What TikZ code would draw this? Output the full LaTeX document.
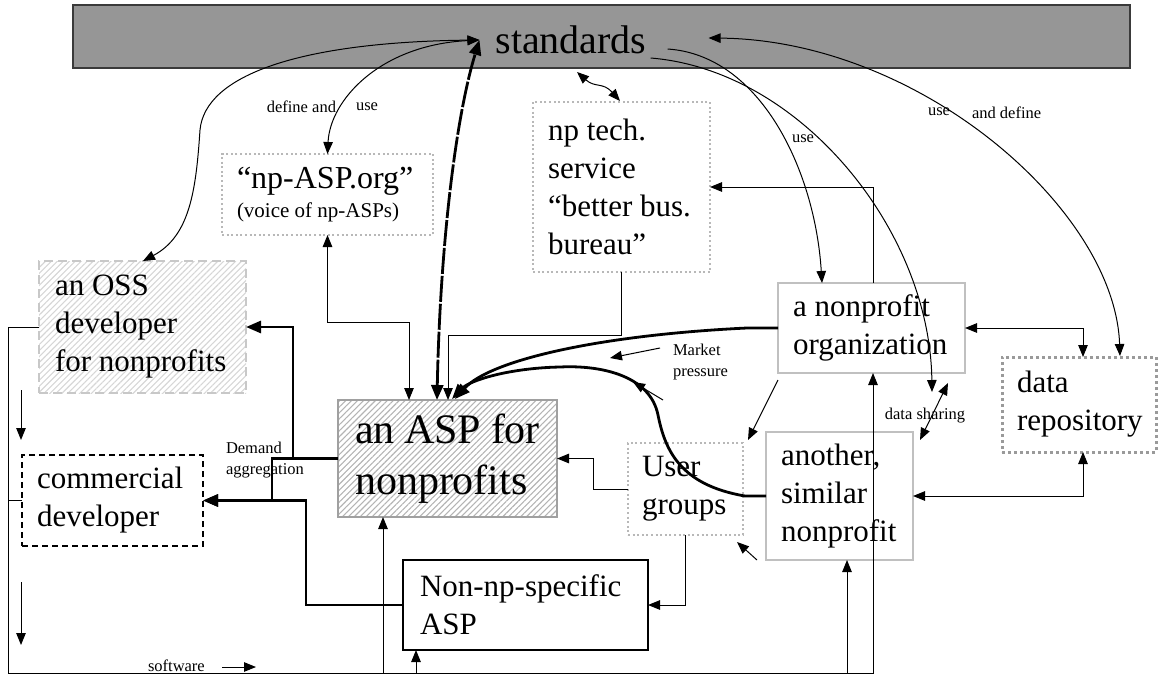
\documentclass[tikz,border=0pt]{standalone}
\usepackage{fontspec}
\setmainfont{Liberation Serif}
\usetikzlibrary{arrows.meta,calc,patterns.meta}

\definecolor{barfill}{HTML}{969696}
\definecolor{barline}{HTML}{3A3A3A}
\definecolor{boxgray}{HTML}{C0C0C0}
\definecolor{dotgray}{HTML}{B8B8B8}
\definecolor{repogray}{HTML}{9A9A9A}
\definecolor{ossline}{HTML}{C8C8C8}
\definecolor{hatchgray}{HTML}{B4B4B4}
\definecolor{hatchlight}{HTML}{D6D6D6}
\definecolor{aspline}{HTML}{A0A0A0}

\tikzset{
  every node/.style={inner sep=0pt, outer sep=0pt},
  bigtext/.style={font=\fontsize{31}{38}\selectfont},
  lab/.style={font=\fontsize{16.5}{21}\selectfont},
  panel/.style={anchor=north west, align=flush left, bigtext,
    execute at begin node={\hyphenpenalty=10000 \exhyphenpenalty=10000 }},
  greybox/.style={panel, draw=boxgray, line width=2.4pt},
  dotbox/.style={panel, draw=dotgray, line width=2pt, dash pattern=on 2pt off 2.6pt},
  hatch/.style={pattern={Lines[angle=45,distance=4.2pt,line width=1.1pt]}, pattern color=#1},
  conn/.style={line width=1pt},
  heavy/.style={line width=2.8pt, >={Triangle[length=15pt,width=12pt]}},
}

\begin{document}
\begin{tikzpicture}[x=1pt, y=-1pt, >={Triangle[length=12pt,width=9.5pt]}]
\useasboundingbox (0,0) rectangle (1159,675);

% standards bar
\node[panel, minimum width=1057pt, minimum height=63pt, fill=barfill, draw=barline, line width=1.4pt] (bar) at (73,5) {};
\node[font=\fontsize{40}{48}\selectfont] (std) at (571,40) {standards};
\coordinate (stdL) at ($(std.west)+(-16,0)$);
\coordinate (stdR) at ($(std.east)+(62,-2)$);
\coordinate (stdS) at ($(std.east)+(21,9)$);
\coordinate (stdF) at ($(std.east)+(4,18)$);
\coordinate (stdB) at ($(bar.south west)+(504,4)$);

% boxes
\node[panel, minimum width=207pt, minimum height=132pt, inner xsep=16pt, text width=175pt,
      draw=ossline, line width=2.2pt, dash pattern=on 9pt off 5pt, hatch=hatchlight] (oss) at (39,261)
      {an OSS\\developer\\for~nonprofits};
\node[dotbox, minimum width=211pt, minimum height=81pt, inner xsep=15pt, text width=181pt] (asporg) at (222,154)
      {{\fontsize{32}{38}\selectfont “np-ASP.org”}\\[-9pt]{\fontsize{21}{25}\selectfont (voice~of~np-ASPs)}};
\node[dotbox, minimum width=177pt, minimum height=170pt, inner xsep=15pt, text width=147pt] (tech) at (533,102)
      {np tech.\\service\\“better~bus.\\bureau”};
\node[panel, minimum width=219pt, minimum height=117pt, inner xsep=17pt, text width=185pt,
      font=\fontsize{42}{51}\selectfont, draw=aspline, line width=2.4pt, hatch=hatchgray] (asp) at (338,400)
      {an~ASP~for\\nonprofits};
\node[panel, minimum width=181pt, minimum height=91pt, inner xsep=15pt, text width=151pt,
      draw=black, line width=1.8pt, dash pattern=on 6pt off 4pt] (com) at (22,455)
      {commercial\\developer};
\node[panel, minimum width=245pt, minimum height=90pt, inner xsep=17pt, text width=211pt,
      draw=black, line width=2.4pt] (nonnp) at (403,560)
      {Non-np-specific\\ASP};
\node[dotbox, minimum width=115pt, minimum height=92pt, inner xsep=14pt, text width=87pt] (ug) at (628,443)
      {User\\groups};
\node[greybox, minimum width=147pt, minimum height=128pt, inner xsep=15pt, text width=117pt] (an) at (766,432)
      {another,\\similar\\nonprofit};
\node[greybox, minimum width=187pt, minimum height=90pt, inner xsep=15pt, text width=157pt] (np) at (778,283)
      {a~nonprofit\\organization};
\node[panel, minimum width=154pt, minimum height=95pt, inner xsep=15pt, text width=124pt,
      draw=repogray, line width=3pt, dash pattern=on 3pt off 3pt] (repo) at (1002,357)
      {data\\repository};

% links with the standards
\draw[conn,<->] ($(oss.north west)+(104,0)$) .. controls (190,236) and (196,190) .. (200,130)
      .. controls (205,75) and (300,42) .. (stdL);
\draw[conn,<->] (asporg.north) .. controls (330,100) and (380,45) .. (stdL);
\draw[heavy,<->, dash pattern=on 26pt off 2pt] ($(asp.north west)+(99,0)$) .. controls (440,250) and (455,120) .. (stdL);
\draw[conn,<->] (stdB) .. controls (595,88) and (603,82) .. ($(tech.north west)+(87,-1)$);
\draw[conn,<->] (stdR) .. controls (920,40) and (1115,210) .. ($(repo.north west)+(118,-1)$);
\draw[conn,->] (stdS) .. controls (760,55) and (815,170) .. ($(np.north west)+(44,0)$);
\coordinate (shareEnd) at (932,392);
\draw[conn,->] (stdF) .. controls (800,70) and (930,230) .. (shareEnd);

% data links
\draw[conn,<->] ($(np.south east)+(-17,10)$) -- ($(an.north east)+(7,8)$);
\coordinate (repoTop) at ($(repo.north west)+(81,0)$);
\coordinate (repoBot) at ($(repo.south west)+(81,0)$);
\draw[conn,<->] (np.east) -| (repoTop);
\draw[conn,<->] (an.east) -| (repoBot);
\coordinate (npTop) at ($(np.north west)+(95,0)$);
\draw[conn,->] (npTop) |- (tech.east);

% software loop along the bottom
\coordinate (cBL) at (8,673);
\coordinate (npBot) at ($(np.south west)+(95,0)$);
\draw[conn,->] (oss.west) -| (cBL) -| (npBot);
\draw[conn] (com.west) -- (com.west -| cBL);
\coordinate (aspBot) at ($(asp.south west)+(45,0)$);
\coordinate (nnBot) at ($(nonnp.south west)+(13,0)$);
\coordinate (anBot) at ($(an.south west)+(81,0)$);
\draw[conn,->] (aspBot |- cBL) -- (aspBot);
\draw[conn,->] (nnBot |- cBL) -- (nnBot);
\draw[conn,->] (anBot |- cBL) -- (anBot);

% direction hints
\coordinate (h1a) at (21,390); \coordinate (h1b) at (21,440);
\coordinate (h2a) at (21,582); \coordinate (h2b) at (21,645);
\coordinate (h3a) at (222,667); \coordinate (h3b) at (256,667);
\coordinate (h4a) at (660,348); \coordinate (h4b) at (610,358);
\coordinate (h5a) at (663,400); \coordinate (h5b) at (633,382);
\coordinate (h6a) at (757,560); \coordinate (h6b) at (737,542);
\draw[conn,->] (h1a) -- (h1b);
\draw[conn,->] (h2a) -- (h2b);
\draw[conn,->] (h3a) -- (h3b);
\draw[conn,->] (h4a) -- (h4b);
\draw[conn,->] (h5a) -- (h5b);
\draw[conn,->] (h6a) -- (h6b);

% links into the ASP
\draw[conn,<->] (asporg.south) -- ++(0,87) -| ($(asp.north west)+(71,0)$);
\draw[conn,->] (tech.south) -- ++(0,63) -| ($(asp.north west)+(110,0)$);
\draw[heavy,->] (np.west) -- ++(-31,0) .. controls (600,335) and (490,360) .. ($(asp.north west)+(117,-1)$);
\draw[heavy,->] (an.west) -- ++(-21,0) .. controls (680,485) and (665,450) .. (658,415)
      .. controls (650,375) and (600,365) .. (560,367)
      .. controls (510,368) and (470,380) .. ($(asp.north west)+(114,-1)$);
\draw[conn,->] (ug.west) -- ++(-35,0) |- (asp.east);
\draw[conn,->] (ug.south) |- (nonnp.east);
\draw[conn,->] ($(np.south west)+(0,7)$) -- ($(ug.north east)+(5,-3)$);

% demand aggregation
\coordinate (j1) at ($(asp.west)+(-45,0)$);
\coordinate (j2) at ($(asp.west)+(-66,0)$);
\draw[heavy,->] (asp.west) -- (j2) |- (com.east);
\draw[heavy,->] (j1) |- (oss.east);
\draw[heavy,->] (nonnp.west) -- ++(-97,0) |- (com.east);

% labels
\node[lab, anchor=east] (lbdef) at (336,107) {define and};
\node[lab, anchor=west] (lbuse) at (356,107) {use};
\node[lab] (lbuse2) at (803,139) {use};
\node[lab, anchor=east] (lbuse3) at (950,112) {use};
\node[lab, anchor=west] (lbdefine) at (972,113) {and define};
\node[lab, align=left, anchor=west] (lbmarket) at (673,362) {Market\\pressure};
\node[lab] (lbshare) at (925,416) {data sharing};
\node[lab, align=left, anchor=north west] (lbdem) at (226,442) {Demand\\aggregation};
\node[lab, anchor=west] (lbsoft) at (148,666) {software};
\end{tikzpicture}
\end{document}
